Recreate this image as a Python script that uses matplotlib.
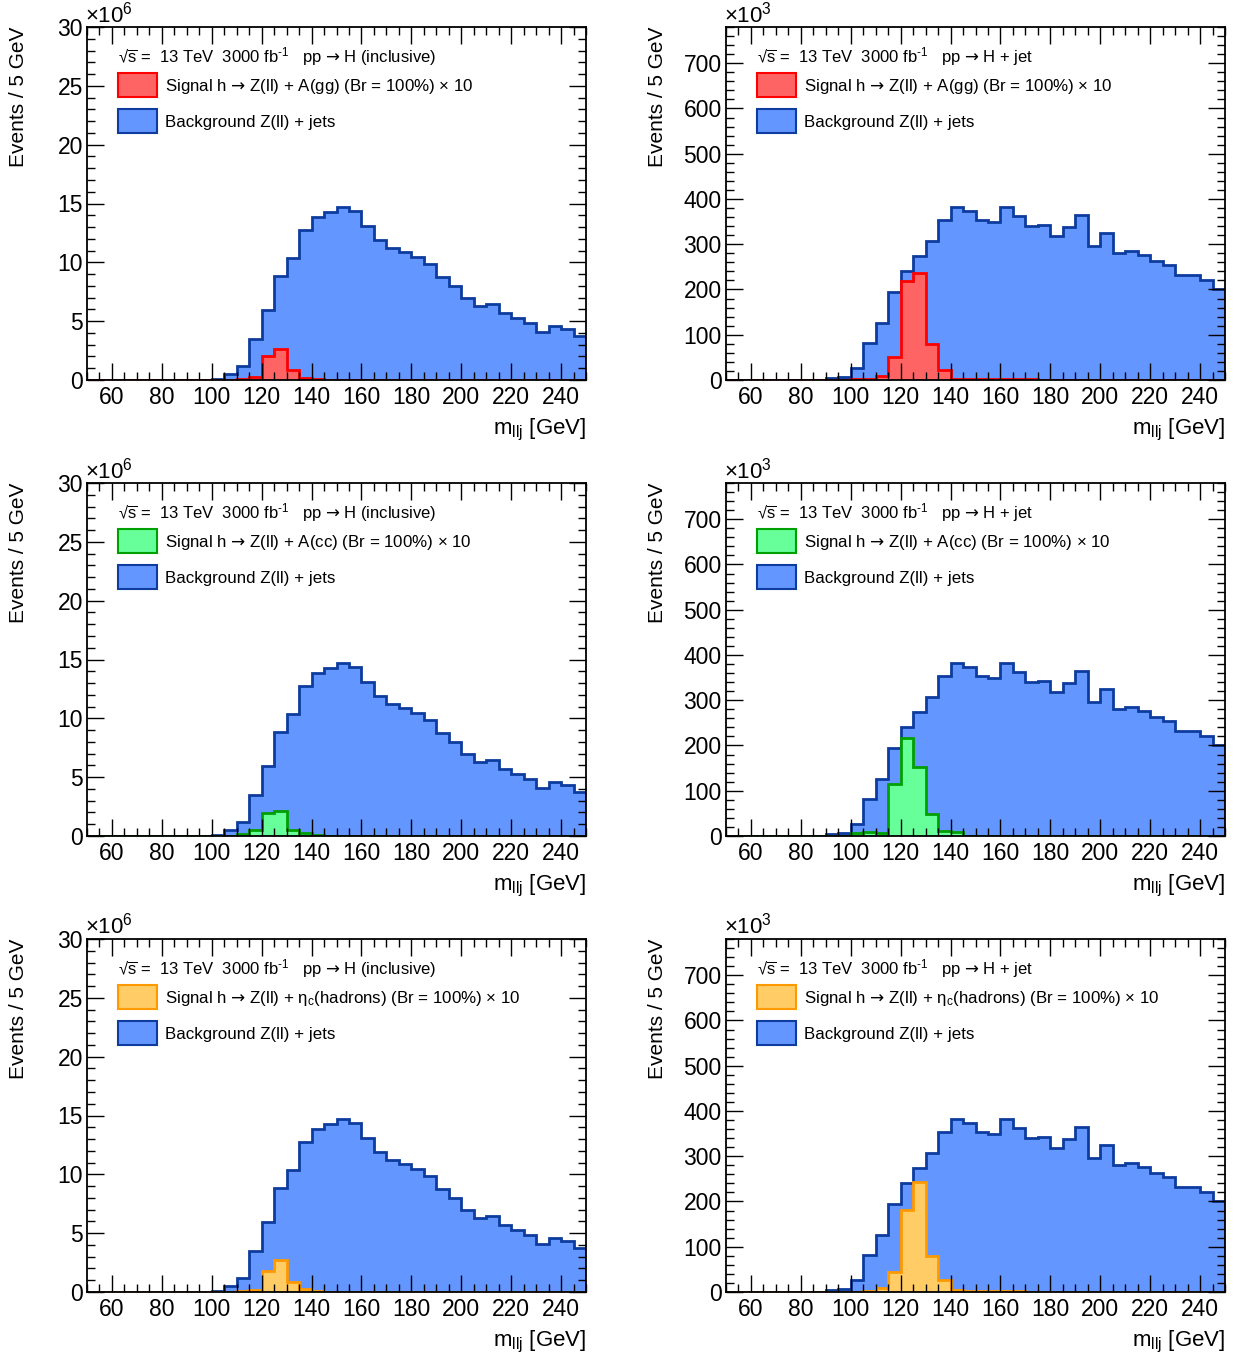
import matplotlib

matplotlib.use("Agg")  # no display
import matplotlib.pyplot as plt
import numpy as np
from matplotlib.patches import Patch
from matplotlib.ticker import MultipleLocator

plt.rcParams["font.family"] = ["Liberation Sans", "DejaVu Sans"]
plt.rcParams["mathtext.fontset"] = "custom"
plt.rcParams["mathtext.rm"] = "Liberation Sans"
plt.rcParams["mathtext.it"] = "Liberation Sans:italic"
plt.rcParams["mathtext.bf"] = "Liberation Sans:bold"
plt.rcParams["mathtext.sf"] = "DejaVu Sans"  # used for the arrow glyph only

# m_llj bins, 5 GeV wide from 50 to 250
edges = np.arange(50, 255, 5)

# pp -> H (inclusive), units of 1e6 events
bg_incl = [0.0, 0.0, 0.0, 0.0, 0.0, 0.0, 0.0, 0.01, 0.01, 0.02,
           0.07, 0.54, 1.19, 3.45, 5.94, 8.83, 10.33, 12.79, 13.87, 14.24,
           14.72, 14.38, 13.13, 11.92, 11.18, 10.84, 10.44, 9.85, 8.77, 8.01,
           6.99, 6.31, 6.42, 5.66, 5.29, 4.87, 4.10, 4.61, 4.30, 3.76]
sig_gg_incl = [0.01, 0.01, 0.01, 0.01, 0.01, 0.01, 0.01, 0.01, 0.01, 0.01,
               0.01, 0.02, 0.05, 0.24, 2.02, 2.61, 0.81, 0.20, 0.07, 0.04,
               0.03, 0.03, 0.03, 0.02, 0.02, 0.02, 0.02, 0.02, 0.02, 0.02,
               0.01, 0.01, 0.01, 0.01, 0.01, 0.01, 0.01, 0.01, 0.01, 0.01]
sig_cc_incl = [0.01, 0.01, 0.01, 0.01, 0.01, 0.01, 0.01, 0.01, 0.01, 0.01,
               0.01, 0.03, 0.17, 0.49, 1.93, 2.16, 0.52, 0.23, 0.05, 0.03,
               0.02, 0.02, 0.02, 0.02, 0.02, 0.02, 0.02, 0.01, 0.01, 0.01,
               0.01, 0.01, 0.01, 0.01, 0.01, 0.01, 0.01, 0.01, 0.01, 0.01]
sig_etac_incl = [0.01, 0.01, 0.01, 0.01, 0.01, 0.01, 0.01, 0.01, 0.01, 0.01,
                 0.01, 0.02, 0.05, 0.20, 1.78, 2.71, 0.85, 0.23, 0.08, 0.04,
                 0.03, 0.03, 0.03, 0.02, 0.02, 0.02, 0.02, 0.02, 0.02, 0.02,
                 0.01, 0.01, 0.01, 0.01, 0.01, 0.01, 0.01, 0.01, 0.01, 0.01]

# pp -> H + jet, units of 1e3 events
bg_jet = [0.5, 0.5, 0.5, 0.5, 0.5, 0.5, 0.5, 0.5, 3.7, 7.4,
          25.8, 81.8, 125.3, 193.8, 241.0, 274.0, 308.0, 353.7, 382.5, 374.4,
          353.7, 350.0, 382.5, 362.6, 340.5, 342.7, 319.0, 338.2, 364.8, 296.2,
          324.2, 280.0, 284.4, 275.6, 263.0, 254.2, 232.9, 231.4, 220.3, 201.9]
sig_gg_jet = [0.3, 0.3, 0.3, 0.3, 0.3, 0.3, 0.3, 0.3, 0.3, 0.5,
              1.5, 3.0, 8.8, 51.6, 219.3, 237.0, 80.2, 21.0, 3.0, 2.0,
              1.5, 1.5, 1.5, 1.2, 1.2, 1.0, 1.0, 1.0, 1.0, 0.8,
              0.8, 0.8, 0.7, 0.7, 0.6, 0.6, 0.5, 0.5, 0.5, 0.5]
sig_cc_jet = [0.3, 0.3, 0.3, 0.3, 0.3, 0.3, 0.3, 0.3, 0.5, 1.0,
              6.6, 8.8, 5.9, 114.0, 217.6, 152.2, 48.5, 10.3, 8.0, 0.8,
              0.6, 0.6, 0.5, 0.5, 0.5, 0.5, 0.5, 0.5, 0.5, 0.5,
              0.5, 0.5, 0.5, 0.5, 0.5, 0.5, 0.5, 0.5, 0.5, 0.5]
sig_etac_jet = [0.3, 0.3, 0.3, 0.3, 0.3, 0.3, 0.3, 0.3, 0.3, 0.3,
                0.5, 1.5, 8.0, 45.0, 181.0, 242.0, 80.0, 26.5, 5.0, 3.0,
                3.0, 3.0, 1.5, 1.2, 1.0, 1.0, 1.0, 1.0, 1.0, 1.0,
                1.0, 1.0, 1.0, 1.0, 1.0, 1.0, 1.0, 1.0, 1.0, 1.0]

ARROW = r"$\mathsf{→}$"
SQRT_S = r"√$\overline{\mathrm{s}}$"
header_incl = SQRT_S + r" =  13 TeV  3000 fb$^{‐1}$   pp " + ARROW + " H (inclusive)"
header_jet = SQRT_S + r" =  13 TeV  3000 fb$^{‐1}$   pp " + ARROW + " H + jet"
sig_labels = [
    "Signal h " + ARROW + " Z(ll) + A(gg) (Br = 100%) × 10",
    "Signal h " + ARROW + " Z(ll) + A(cc) (Br = 100%) × 10",
    "Signal h " + ARROW + r" Z(ll) + η$_\mathrm{c}$(hadrons) (Br = 100%) × 10",
]
bg_label = "Background Z(ll) + jets"

BG_FILL, BG_EDGE = "#6396FF", "#0D3C9E"
sig_colors = [("#FF6464", "#FF0000"), ("#66FF99", "#00A000"), ("#FFCC66", "#FF9900")]

incl_sig = [sig_gg_incl, sig_cc_incl, sig_etac_incl]
jet_sig = [sig_gg_jet, sig_cc_jet, sig_etac_jet]


def draw_panel(ax, bg, sig, fill, edge, header, sig_label, ymax, major, minor, expo):
    ax.stairs(bg, edges, fill=True, facecolor=BG_FILL, edgecolor=BG_EDGE, linewidth=2)
    ax.stairs(sig, edges, fill=True, facecolor=fill, edgecolor=edge, linewidth=2)

    ax.set_xlim(50, 250)
    ax.set_ylim(0, ymax)
    ax.xaxis.set_minor_locator(MultipleLocator(5))
    ax.yaxis.set_major_locator(MultipleLocator(major))
    ax.yaxis.set_minor_locator(MultipleLocator(minor))
    ax.set_xticks(np.arange(60, 250, 20))
    ax.tick_params(which="both", direction="in", top=True, right=True, labelsize=16.5)
    ax.tick_params(which="major", length=12, width=1)
    ax.tick_params(which="minor", length=6, width=1)
    ax.tick_params(axis="x", pad=4)
    ax.tick_params(axis="y", pad=3)
    for sp in ax.spines.values():
        sp.set_linewidth(1.3)

    ax.set_ylabel("Events / 5 GeV", fontsize=15, loc="top")
    ax.yaxis.set_label_coords(-0.118, 1.0)
    ax.set_xlabel(r"m$_\mathrm{llj}$ [GeV]", fontsize=16, loc="right")
    ax.xaxis.set_label_coords(1.0, -0.105)
    ax.text(-0.005, 1.0, r"×10$^{%d}$" % expo, transform=ax.transAxes,
            ha="left", va="bottom", fontsize=16)

    handles = [
        Patch(facecolor=fill, edgecolor=edge, linewidth=1.5, label=sig_label),
        Patch(facecolor=BG_FILL, edgecolor=BG_EDGE, linewidth=1.5, label=bg_label),
    ]
    leg = ax.legend(handles=handles, title=header, loc="upper left",
                    bbox_to_anchor=(0.062, 0.950), frameon=False, fontsize=12.2,
                    title_fontsize=12, alignment="left", borderpad=0,
                    handlelength=2.3, handleheight=1.8, handletextpad=0.5,
                    labelspacing=0.73, borderaxespad=0)
    leg._legend_box.sep = 4


fig = plt.figure(figsize=(12.41, 13.6), dpi=100)
W, H = 1241.0, 1360.0
col_left = [87, 726]
row_top = [27, 483, 939]
ax_w, ax_h = 499, 353

for r in range(3):
    fill, edge = sig_colors[r]
    ax = fig.add_axes([col_left[0] / W, 1 - (row_top[r] + ax_h) / H, ax_w / W, ax_h / H])
    draw_panel(ax, bg_incl, incl_sig[r], fill, edge, header_incl, sig_labels[r],
               30, 5, 1, 6)
    ax = fig.add_axes([col_left[1] / W, 1 - (row_top[r] + ax_h) / H, ax_w / W, ax_h / H])
    draw_panel(ax, bg_jet, jet_sig[r], fill, edge, header_jet, sig_labels[r],
               780, 100, 20, 3)

fig.savefig("out.png", dpi=100)
